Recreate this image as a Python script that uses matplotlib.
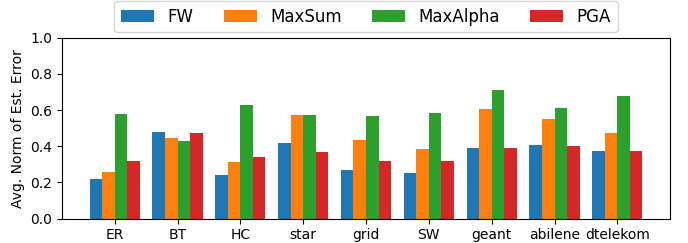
import matplotlib
matplotlib.use("Agg")
import matplotlib.pyplot as plt
import numpy as np

categories = ["ER", "BT", "HC", "star", "grid", "SW", "geant", "abilene", "dtelekom"]
series_names = ["FW", "MaxSum", "MaxAlpha", "PGA"]
fw = [0.221, 0.481, 0.243, 0.420, 0.271, 0.254, 0.392, 0.409, 0.376]
maxsum = [0.260, 0.448, 0.315, 0.575, 0.436, 0.387, 0.608, 0.552, 0.475]
maxalpha = [0.580, 0.431, 0.630, 0.575, 0.569, 0.586, 0.713, 0.613, 0.680]
pga = [0.320, 0.475, 0.343, 0.370, 0.320, 0.320, 0.392, 0.403, 0.376]
colors = ["#1f77b4", "#ff7f0e", "#2ca02c", "#d62728"]

fig, ax = plt.subplots(figsize=(6.88, 2.43), dpi=100)
x = np.arange(len(categories))
w = 0.2
for i, (name, vals) in enumerate(zip(series_names, [fw, maxsum, maxalpha, pga])):
    ax.bar(x + (i - 1.5) * w, vals, w, label=name, color=colors[i])
ax.set_xticks(x)
ax.set_xticklabels(categories, fontsize=10)
ax.set_ylim(0, 1.0)
ax.set_yticks(np.arange(0, 1.01, 0.2))
ax.tick_params(axis='y', labelsize=10)
ax.set_ylabel("Avg. Norm of Est. Error", fontsize=10)
ax.legend(loc='lower center', bbox_to_anchor=(0.5, 1.03), ncol=4, fontsize=12,
          frameon=True, columnspacing=1.8, handlelength=2.0, borderaxespad=0.0)
fig.subplots_adjust(left=0.09, right=0.974, bottom=0.1, top=0.845)
fig.savefig("out.png", dpi=100)
